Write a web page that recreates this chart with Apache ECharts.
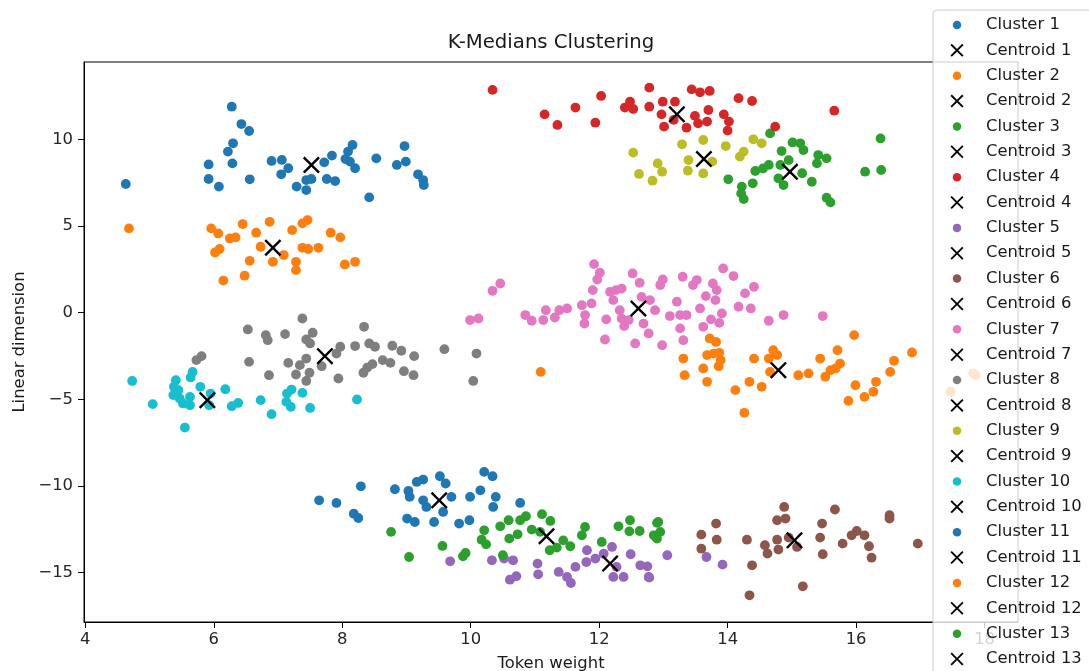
<!DOCTYPE html>
<html>
<head>
<meta charset="utf-8">
<script src="https://cdn.jsdelivr.net/npm/echarts@6/dist/echarts.min.js"></script>
<style>
  html, body { margin: 0; padding: 0; background: #ffffff; }
  #chart { width: 1089px; height: 671px; }
</style>
</head>
<body>
<div id="chart"></div>
<script>
// Points of each cluster: [token weight, linear dimension]
const cluster1 = [[4.63,7.42],[6.28,11.88],[6.43,10.88],[6.55,10.48],[6.30,9.77],[6.22,9.29],[5.92,8.55],[6.29,8.61],[5.92,7.71],[6.08,7.27],[6.56,7.69],[6.90,8.75],[7.06,8.81],[7.16,8.33],[7.05,7.98],[7.29,7.27],[7.44,7.07],[7.44,7.65],[7.52,7.71],[7.72,8.67],[7.84,9.06],[7.76,7.71],[7.89,7.59],[8.05,8.86],[8.09,9.29],[8.16,9.67],[8.12,8.71],[8.20,8.33],[8.42,6.65],[8.53,8.90],[8.85,8.52],[8.99,8.71],[8.97,9.61],[9.18,7.98],[9.26,7.65],[9.27,7.36]];
const cluster2 = [[4.68,4.86],[5.96,4.86],[6.07,4.57],[6.25,4.28],[6.34,4.34],[6.45,5.11],[6.66,4.61],[6.87,5.24],[6.73,3.80],[6.02,3.47],[6.09,3.67],[6.56,2.99],[6.92,2.93],[7.09,3.32],[7.22,4.76],[7.38,5.15],[7.46,5.34],[7.38,3.74],[7.47,3.67],[7.28,2.93],[7.28,2.45],[7.63,3.74],[7.82,4.61],[7.97,4.34],[8.04,2.78],[8.20,2.93],[6.48,2.13],[6.15,1.85]];
const cluster3 = [[14.66,10.34],[14.84,9.32],[15.01,9.82],[15.13,9.77],[15.18,9.38],[15.41,9.09],[15.39,8.61],[15.54,8.90],[16.38,10.05],[16.14,8.13],[16.39,8.23],[14.95,8.80],[14.82,8.52],[14.79,7.75],[14.87,7.36],[15.16,8.04],[15.31,7.55],[15.54,6.63],[15.60,6.36],[14.64,8.52],[14.55,8.32],[14.43,8.17],[14.39,7.46],[14.22,7.27],[14.21,6.88],[14.25,6.55],[14.01,7.69]];
const cluster4 = [[10.34,12.85],[11.15,11.44],[11.35,10.83],[11.63,11.83],[12.03,12.50],[11.94,10.96],[12.40,11.83],[12.48,12.17],[12.53,11.75],[12.78,12.98],[12.78,11.88],[12.99,12.17],[12.97,11.44],[13.01,10.73],[13.18,12.17],[13.16,11.12],[13.36,10.67],[13.44,12.88],[13.57,12.71],[13.72,12.79],[13.49,11.35],[13.54,10.92],[13.68,11.02],[13.70,11.69],[13.94,11.44],[14.02,11.02],[14.00,10.50],[14.17,12.37],[14.38,12.21],[14.74,10.73],[15.66,11.65]];
const cluster5 = [[9.68,-14.35],[10.33,-14.29],[10.52,-14.19],[10.66,-14.29],[10.61,-15.41],[10.71,-15.21],[11.04,-14.48],[11.05,-15.10],[11.37,-14.96],[11.50,-15.25],[11.56,-15.60],[11.63,-14.67],[11.81,-13.71],[11.80,-14.39],[11.94,-14.19],[12.07,-13.91],[12.20,-13.52],[12.22,-15.25],[12.27,-14.67],[12.38,-15.25],[12.49,-13.94],[12.64,-14.58],[12.75,-14.64],[12.77,-15.25],[12.78,-15.29],[13.06,-14.00],[13.67,-14.10],[13.92,-14.54]];
const cluster6 = [[13.59,-12.81],[13.59,-13.62],[13.82,-12.17],[13.83,-13.10],[14.30,-13.10],[14.38,-14.58],[14.34,-16.31],[14.58,-13.42],[14.62,-13.90],[14.77,-13.10],[14.79,-13.67],[14.77,-11.98],[14.88,-11.21],[14.90,-11.88],[14.95,-12.98],[15.08,-13.52],[15.17,-15.79],[15.44,-12.98],[15.47,-12.17],[15.48,-13.94],[15.67,-11.36],[15.79,-13.33],[15.93,-12.85],[16.01,-12.60],[16.13,-12.85],[16.20,-13.48],[16.24,-14.14],[16.52,-11.69],[16.52,-11.88],[16.96,-13.33]];
const cluster7 = [[9.99,-0.43],[10.12,-0.34],[10.34,1.26],[10.46,1.68],[10.85,-0.14],[10.95,-0.47],[11.13,-0.43],[11.17,0.14],[11.31,-0.28],[11.38,0.14],[11.50,0.24],[11.73,0.43],[11.77,-0.63],[11.78,-0.14],[11.88,0.53],[11.90,1.30],[11.92,2.80],[12.01,2.30],[11.97,1.91],[12.09,-1.55],[12.11,-0.39],[12.17,1.20],[12.26,1.30],[12.35,1.39],[12.22,0.72],[12.32,0.14],[12.39,-0.78],[12.35,-0.34],[12.46,-0.43],[12.52,2.26],[12.56,-1.78],[12.63,1.72],[12.69,-0.63],[12.66,0.91],[12.79,0.72],[12.77,-1.20],[12.87,0.14],[12.95,1.59],[12.98,-1.88],[12.99,1.91],[13.10,-0.20],[13.21,0.63],[13.26,-0.14],[13.26,-0.91],[13.31,-1.59],[13.30,2.07],[13.36,-0.14],[13.46,1.59],[13.52,1.88],[13.57,0.24],[13.62,-0.82],[13.66,0.95],[13.74,-0.39],[13.77,1.68],[13.81,0.72],[13.83,1.30],[13.87,-0.59],[13.91,-0.05],[13.93,2.55],[14.09,2.11],[14.17,0.34],[14.27,1.11],[14.36,0.24],[14.41,1.49],[14.64,-0.47],[14.87,-0.14],[15.48,-0.20]];
const cluster8 = [[7.38,-0.34],[6.53,-0.97],[6.81,-1.30],[6.84,-1.59],[7.11,-1.24],[7.54,-1.16],[7.44,-1.55],[7.50,-1.78],[8.34,-0.82],[7.97,-1.97],[7.91,-2.36],[8.20,-1.93],[8.42,-1.78],[8.51,-1.97],[8.78,-1.91],[8.92,-2.20],[9.12,-2.51],[9.59,-2.11],[10.09,-2.36],[10.04,-3.94],[5.81,-2.51],[5.73,-2.74],[6.55,-2.84],[7.16,-2.90],[6.86,-3.61],[7.28,-3.57],[7.34,-3.03],[7.44,-2.65],[7.49,-3.47],[7.44,-3.94],[7.68,-3.09],[7.94,-3.80],[8.33,-3.47],[8.39,-3.17],[8.47,-2.97],[8.63,-2.74],[8.75,-2.90],[8.96,-3.38],[9.11,-3.61]];
const cluster9 = [[12.53,9.23],[12.62,8.00],[12.83,7.61],[12.91,8.61],[12.98,8.13],[13.29,9.71],[13.62,9.96],[13.39,8.80],[13.38,8.19],[13.62,8.03],[13.76,8.71],[13.97,9.61],[14.19,9.00],[14.25,9.29],[14.40,10.00],[14.53,9.77]];
const cluster10 = [[4.73,-3.94],[5.05,-5.28],[5.41,-3.90],[5.38,-4.28],[5.37,-4.76],[5.45,-4.47],[5.47,-4.96],[5.52,-5.24],[5.63,-5.34],[5.63,-4.86],[5.67,-3.42],[5.64,-3.74],[5.79,-4.28],[5.55,-6.63],[5.93,-5.34],[5.95,-4.67],[6.18,-4.42],[6.28,-5.40],[6.38,-5.21],[6.73,-5.05],[6.90,-5.86],[7.13,-5.15],[7.14,-4.67],[7.21,-4.44],[7.20,-5.44],[7.38,-4.63],[7.50,-5.50],[8.23,-5.01]];
const cluster11 = [[7.64,-10.83],[7.91,-10.98],[8.29,-10.02],[8.18,-11.60],[8.25,-11.85],[8.82,-10.19],[9.03,-10.29],[9.05,-10.63],[9.16,-9.77],[9.26,-9.63],[9.01,-11.88],[9.13,-12.08],[9.26,-10.83],[9.31,-11.21],[9.43,-12.08],[9.52,-9.44],[9.61,-9.86],[9.57,-11.50],[9.70,-10.63],[9.82,-12.17],[9.99,-10.63],[9.98,-11.98],[10.15,-10.25],[10.21,-9.19],[10.34,-9.44],[10.39,-10.63],[10.35,-11.21],[10.77,-10.98]];
const cluster12 = [[11.09,-3.42],[13.31,-2.65],[13.33,-3.61],[13.62,-3.22],[13.68,-3.99],[13.72,-1.49],[13.82,-1.69],[13.68,-2.45],[13.78,-2.36],[13.87,-2.32],[13.89,-2.74],[13.86,-3.09],[14.12,-4.47],[14.26,-5.78],[14.34,-3.99],[14.41,-2.65],[14.53,-4.28],[14.64,-2.65],[14.71,-2.17],[14.77,-2.45],[14.66,-3.42],[15.10,-3.61],[15.26,-3.51],[15.44,-2.65],[15.52,-3.70],[15.60,-3.32],[15.68,-3.22],[15.75,-2.94],[15.71,-2.17],[15.97,-1.30],[15.99,-4.19],[15.88,-5.09],[16.13,-4.86],[16.27,-4.57],[16.31,-3.99],[16.53,-3.42],[16.59,-2.78],[16.87,-2.30],[17.82,-3.50],[17.86,-3.60],[17.47,-4.57]];
const cluster13 = [[8.76,-12.65],[9.04,-14.10],[9.56,-13.46],[9.88,-14.06],[9.92,-13.87],[10.17,-13.10],[10.21,-12.56],[10.24,-13.37],[10.46,-12.33],[10.50,-14.00],[10.59,-11.98],[10.60,-13.04],[10.73,-12.79],[10.77,-11.98],[10.86,-11.75],[10.95,-12.52],[11.11,-11.63],[11.24,-12.02],[11.08,-12.65],[11.23,-13.71],[11.34,-13.56],[11.44,-13.14],[11.55,-13.48],[11.73,-12.85],[11.78,-12.37],[12.04,-13.23],[12.30,-12.33],[12.48,-11.98],[12.47,-12.62],[12.63,-12.60],[12.85,-12.85],[12.90,-12.13],[12.92,-12.08],[12.95,-12.65],[12.90,-13.04]];

// Cluster medians, one per cluster
const centroids = [[7.52,8.52],[6.92,3.74],[14.97,8.13],[13.21,11.44],[12.17,-14.48],[15.04,-13.14],[12.61,0.24],[7.73,-2.51],[13.63,8.86],[5.90,-5.05],[9.51,-10.83],[14.79,-3.32],[11.18,-12.90]];

const clusterNames = ['Cluster 1','Cluster 2','Cluster 3','Cluster 4','Cluster 5','Cluster 6','Cluster 7','Cluster 8','Cluster 9','Cluster 10','Cluster 11','Cluster 12','Cluster 13'];
const centroidNames = ['Centroid 1','Centroid 2','Centroid 3','Centroid 4','Centroid 5','Centroid 6','Centroid 7','Centroid 8','Centroid 9','Centroid 10','Centroid 11','Centroid 12','Centroid 13'];

const xTicks = [4, 6, 8, 10, 12, 14, 16, 18];
const yTicks = [-15, -10, -5, 0, 5, 10];

const clusters = [cluster1, cluster2, cluster3, cluster4, cluster5, cluster6, cluster7, cluster8, cluster9, cluster10, cluster11, cluster12, cluster13];

// tab10 colour cycle
const palette = ['#1f77b4','#ff7f0e','#2ca02c','#d62728','#9467bd','#8c564b','#e377c2','#7f7f7f','#bcbd22','#17becf'];

// filled "x" marker and a small dot padded inside a 13x13 box for the legend
const CROSS = 'path://M0,10L10,0L50,40L90,0L100,10L60,50L100,90L90,100L50,60L10,100L0,90L40,50Z';
const DOT = 'path://M0,0M13,13M2.25,6.5a4.25,4.25 0 1,0 8.5,0a4.25,4.25 0 1,0 -8.5,0Z';

const FONT = 'DejaVu Sans';
const minus = v => (v < 0 ? '\u2212' + Math.abs(v) : String(v));

const series = [];
const legendData = [];
clusters.forEach((pts, i) => {
  series.push({
    type: 'scatter',
    name: clusterNames[i],
    data: pts,
    symbol: 'circle',
    symbolSize: 9.8,
    itemStyle: { color: palette[i % palette.length], opacity: 1 },
    silent: true
  });
  series.push({
    type: 'scatter',
    name: centroidNames[i],
    data: [centroids[i]],
    symbol: CROSS,
    symbolSize: 17,
    itemStyle: { color: '#000000', opacity: 1 },
    silent: true
  });
  legendData.push({ name: clusterNames[i], icon: DOT });
  legendData.push({ name: centroidNames[i], icon: CROSS });
});

const chart = echarts.init(document.getElementById('chart'), null, { renderer: 'canvas' });
chart.setOption({
  animation: false,
  backgroundColor: '#ffffff',
  title: {
    text: 'K-Medians Clustering',
    left: 551,
    top: 33,
    padding: 0,
    textAlign: 'center',
    textStyle: { fontFamily: FONT, fontSize: 19.7, fontWeight: 'normal', color: '#1a1a1a' }
  },
  grid: {
    left: 84, right: 71, top: 62, bottom: 49,
    show: true, borderColor: '#000000', borderWidth: 1, backgroundColor: 'transparent',
    containLabel: false, outerBoundsMode: 'none'
  },
  xAxis: {
    type: 'value',
    min: 3.98, max: 18.52,
    name: 'Token weight',
    nameLocation: 'middle',
    nameGap: 34,
    nameTextStyle: { fontFamily: FONT, fontSize: 16.4, color: '#1a1a1a' },
    axisLine: { show: true, onZero: false, lineStyle: { color: '#000000', width: 1 } },
    axisTick: { show: true, customValues: xTicks, length: 6, lineStyle: { color: '#000000', width: 1 } },
    axisLabel: { customValues: xTicks, margin: 10, fontFamily: FONT, fontSize: 16.4, color: '#262626', formatter: minus },
    splitLine: { show: false }
  },
  yAxis: {
    type: 'value',
    min: -17.85, max: 14.46,
    name: 'Linear dimension',
    nameLocation: 'middle',
    nameGap: 55,
    nameTextStyle: { fontFamily: FONT, fontSize: 16.4, color: '#1a1a1a' },
    axisLine: { show: true, onZero: false, lineStyle: { color: '#000000', width: 1 } },
    axisTick: { show: true, customValues: yTicks, length: 6, lineStyle: { color: '#000000', width: 1 } },
    axisLabel: { customValues: yTicks, margin: 11, fontFamily: FONT, fontSize: 16.4, color: '#262626', formatter: minus },
    splitLine: { show: false }
  },
  legend: {
    orient: 'vertical',
    left: 933,
    top: 10,
    height: 720,
    padding: [5, 10, 6, 17.5],
    itemWidth: 13,
    itemHeight: 13,
    itemGap: 5.36,
    selectedMode: false,
    backgroundColor: 'rgba(255,255,255,0.8)',
    borderColor: '#cccccc',
    borderWidth: 1,
    borderRadius: 4,
    textStyle: { fontFamily: FONT, fontSize: 16.4, color: '#1a1a1a', lineHeight: 20, padding: [0, 0, 0, 17.5] },
    data: legendData
  },
  series: series
});
</script>
</body>
</html>
